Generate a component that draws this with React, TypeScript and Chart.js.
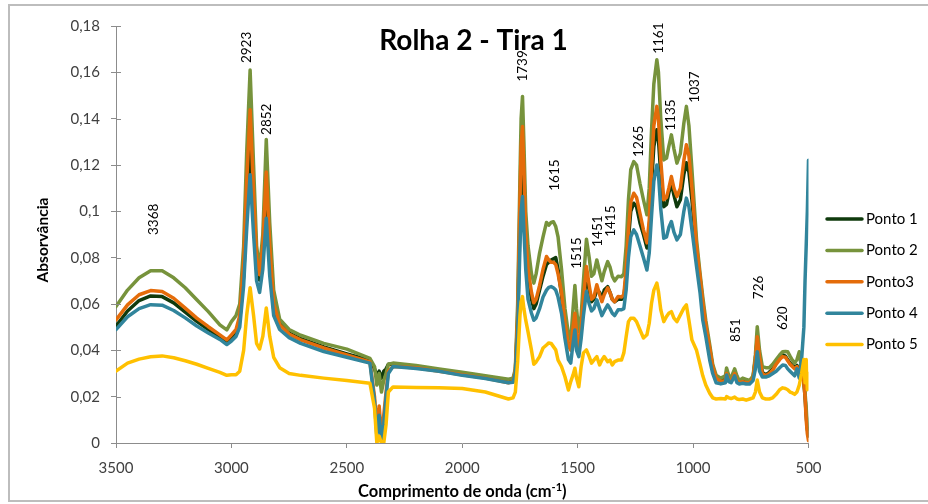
import React, { useEffect, useRef } from "react";
import { Chart, registerables } from "chart.js";

Chart.register(...registerables);

const chartTitle = "Rolha 2 - Tira 1";
const xAxisTitle = "Comprimento de onda (cm";
const xAxisTitleSup = "-1";
const yAxisTitle = "Absorvância";

const seriesNames = ["Ponto 1", "Ponto 2", "Ponto3", "Ponto 4", "Ponto 5"];
const seriesColors = ["#0f3a0c", "#77933c", "#e46c0a", "#31859c", "#ffc000"];

const xTickValues = [3500, 3000, 2500, 2000, 1500, 1000, 500];
const xTickLabels = ["3500", "3000", "2500", "2000", "1500", "1000", "500"];
const yTickValues = [0, 0.02, 0.04, 0.06, 0.08, 0.1, 0.12, 0.14, 0.16, 0.18];
const yTickLabels = ["0", "0,02", "0,04", "0,06", "0,08", "0,1", "0,12", "0,14", "0,16", "0,18"];

const wavenumbers = [
  3500, 3450, 3400, 3350, 3300, 3250, 3200, 3150, 3100, 3050, 3020, 3000,
  2980, 2964, 2947, 2934, 2919, 2904, 2891, 2878, 2864, 2849, 2834, 2817, 2791,
  2750, 2700, 2600, 2500, 2400, 2380, 2370, 2360, 2350, 2340, 2330, 2320, 2300,
  2200, 2100, 2000, 1900, 1800, 1780, 1770, 1760, 1750, 1745, 1739, 1733, 1725, 1715, 1700, 1690,
  1680, 1665, 1650, 1635, 1625, 1615, 1605, 1595, 1585, 1570,
  1555, 1540, 1530, 1520, 1512, 1505, 1495, 1485, 1475, 1462,
  1450, 1440, 1430, 1417, 1405, 1395, 1385, 1370, 1360, 1350,
  1340, 1325, 1310, 1300, 1290, 1280, 1270, 1257, 1245, 1230,
  1215, 1200, 1190, 1180, 1170, 1157, 1150, 1140, 1127, 1115,
  1105, 1094, 1083, 1070, 1055, 1040, 1029, 1018, 1005, 985,
  970, 958, 945, 928, 915, 900, 880, 860, 855, 845,
  835, 820, 810, 800, 785, 770, 755, 740, 730, 722,
  712, 700, 685, 670, 655, 640, 625, 612, 600, 590,
  580, 570, 560, 550, 540, 530, 520, 515, 510, 505,
  500,
];

const ponto1 = [
  0.0505, 0.057, 0.0615, 0.0635, 0.0632, 0.0605, 0.0565, 0.0525, 0.049, 0.0458, 0.044, 0.046,
  0.048, 0.053, 0.072, 0.1, 0.128, 0.098, 0.075, 0.0704, 0.08, 0.105, 0.078, 0.058, 0.0515,
  0.0475, 0.045, 0.0415, 0.0385, 0.0357, 0.032, 0.029, 0.031, 0.028, 0.031, 0.032, 0.034, 0.034,
  0.033, 0.0315, 0.03, 0.0285, 0.027, 0.027, 0.031, 0.052, 0.095, 0.115, 0.122, 0.105, 0.085, 0.072, 0.062, 0.058,
  0.06, 0.066, 0.072, 0.077, 0.078, 0.079, 0.0795, 0.08, 0.075, 0.064,
  0.05, 0.042, 0.041, 0.048, 0.054, 0.047, 0.04, 0.048, 0.06, 0.072,
  0.066, 0.061, 0.062, 0.066, 0.065, 0.062, 0.066, 0.0675, 0.065, 0.062,
  0.061, 0.062, 0.062, 0.063, 0.072, 0.088, 0.1, 0.1035, 0.102, 0.095,
  0.09, 0.0842, 0.092, 0.112, 0.128, 0.1352, 0.131, 0.116, 0.102, 0.103,
  0.108, 0.1123, 0.107, 0.102, 0.105, 0.116, 0.121, 0.117, 0.105, 0.083,
  0.071, 0.06, 0.05, 0.0405, 0.0325, 0.028, 0.027, 0.0275, 0.0305, 0.028,
  0.027, 0.0305, 0.0275, 0.0265, 0.027, 0.0265, 0.0265, 0.0285, 0.0365, 0.045,
  0.0375, 0.0305, 0.0295, 0.0305, 0.032, 0.0345, 0.0365, 0.038, 0.0375, 0.036,
  0.0345, 0.0335, 0.0325, 0.0335, 0.0305, 0.034, 0.026, 0.02, 0.012, 0.006,
  0.003,
];

const ponto2 = [
  0.0589, 0.066, 0.0713, 0.0744, 0.0744, 0.0713, 0.067, 0.0618, 0.0567, 0.051, 0.0488, 0.0524,
  0.055, 0.06, 0.085, 0.125, 0.161, 0.12, 0.085, 0.075, 0.09, 0.131, 0.095, 0.066, 0.0535,
  0.049, 0.0465, 0.043, 0.0405, 0.0365, 0.033, 0.025, 0.03, 0.022, 0.027, 0.03, 0.034, 0.0345,
  0.0335, 0.032, 0.0305, 0.029, 0.0275, 0.028, 0.032, 0.06, 0.115, 0.14, 0.1496, 0.13, 0.1, 0.085, 0.073, 0.069,
  0.073, 0.082, 0.089, 0.0952, 0.094, 0.0952, 0.0955, 0.0934, 0.089, 0.075,
  0.058, 0.047, 0.0445, 0.058, 0.068, 0.058, 0.048, 0.055, 0.07, 0.088,
  0.08, 0.072, 0.073, 0.079, 0.074, 0.07, 0.074, 0.0783, 0.076, 0.072,
  0.07, 0.072, 0.0718, 0.073, 0.085, 0.105, 0.118, 0.1215, 0.12, 0.112,
  0.105, 0.0985, 0.11, 0.135, 0.155, 0.1654, 0.16, 0.14, 0.1222, 0.123,
  0.128, 0.133, 0.127, 0.1208, 0.125, 0.138, 0.1453, 0.137, 0.118, 0.0877,
  0.0734, 0.063, 0.053, 0.0425, 0.034, 0.0292, 0.028, 0.029, 0.0324, 0.029,
  0.0283, 0.032, 0.029, 0.027, 0.028, 0.0275, 0.027, 0.029, 0.038, 0.0502,
  0.04, 0.033, 0.0325, 0.0325, 0.034, 0.036, 0.038, 0.0394, 0.0395, 0.0394,
  0.0375, 0.0358, 0.0345, 0.036, 0.0394, 0.0315, 0.027, 0.022, 0.015, 0.01,
  0.006,
];

const ponto3 = [
  0.0531, 0.0596, 0.064, 0.0658, 0.0654, 0.0625, 0.0582, 0.0539, 0.0502, 0.0467, 0.0445, 0.0467,
  0.049, 0.055, 0.078, 0.112, 0.1438, 0.108, 0.08, 0.0726, 0.085, 0.117, 0.085, 0.06, 0.051,
  0.047, 0.0445, 0.041, 0.038, 0.035, 0.02, 0.006, 0.016, 0.003, 0.012, 0.022, 0.031, 0.033,
  0.0325, 0.031, 0.0295, 0.028, 0.026, 0.0265, 0.031, 0.055, 0.105, 0.128, 0.1366, 0.118, 0.09, 0.075, 0.065, 0.0605,
  0.062, 0.068, 0.075, 0.0805, 0.079, 0.078, 0.078, 0.077, 0.073, 0.065,
  0.052, 0.042, 0.04, 0.05, 0.056, 0.048, 0.04, 0.05, 0.062, 0.0762,
  0.068, 0.062, 0.063, 0.0683, 0.064, 0.061, 0.064, 0.067, 0.065, 0.062,
  0.061, 0.0632, 0.063, 0.064, 0.075, 0.092, 0.104, 0.1078, 0.106, 0.099,
  0.092, 0.0864, 0.096, 0.118, 0.137, 0.1453, 0.14, 0.122, 0.105, 0.106,
  0.11, 0.115, 0.11, 0.1064, 0.11, 0.122, 0.1287, 0.124, 0.11, 0.0848,
  0.072, 0.061, 0.051, 0.041, 0.033, 0.028, 0.0265, 0.027, 0.03, 0.0275,
  0.0265, 0.03, 0.027, 0.026, 0.0265, 0.026, 0.026, 0.028, 0.036, 0.0459,
  0.037, 0.03, 0.029, 0.03, 0.0315, 0.034, 0.036, 0.0373, 0.037, 0.0355,
  0.034, 0.033, 0.032, 0.033, 0.03, 0.034, 0.026, 0.02, 0.01, 0.004,
  0.001,
];

const ponto4 = [
  0.049, 0.0545, 0.058, 0.0597, 0.0595, 0.0572, 0.054, 0.0505, 0.0475, 0.0447, 0.0425, 0.044,
  0.046, 0.05, 0.068, 0.092, 0.1158, 0.09, 0.07, 0.065, 0.075, 0.097, 0.072, 0.055, 0.049,
  0.0455, 0.043, 0.0395, 0.037, 0.0345, 0.018, 0.003, 0.012, 0.001, 0.008, 0.02, 0.03, 0.033,
  0.0322, 0.031, 0.0292, 0.0278, 0.026, 0.0262, 0.03, 0.048, 0.085, 0.1, 0.1064, 0.092, 0.075, 0.062, 0.056, 0.053,
  0.054, 0.058, 0.063, 0.066, 0.0672, 0.0675, 0.067, 0.066, 0.063, 0.056,
  0.045, 0.036, 0.0345, 0.043, 0.0488, 0.04, 0.0373, 0.045, 0.055, 0.0654,
  0.06, 0.057, 0.058, 0.0618, 0.058, 0.055, 0.057, 0.0596, 0.058, 0.056,
  0.055, 0.0575, 0.0575, 0.058, 0.066, 0.08, 0.089, 0.092, 0.09, 0.085,
  0.08, 0.0747, 0.082, 0.098, 0.113, 0.12, 0.116, 0.101, 0.0884, 0.089,
  0.093, 0.0956, 0.091, 0.0877, 0.09, 0.1, 0.1057, 0.102, 0.092, 0.0762,
  0.065, 0.053, 0.046, 0.0358, 0.03, 0.026, 0.0255, 0.026, 0.0294, 0.0265,
  0.026, 0.029, 0.026, 0.0255, 0.0258, 0.0255, 0.0255, 0.027, 0.032, 0.0394,
  0.031, 0.0285, 0.0285, 0.029, 0.03, 0.031, 0.0325, 0.0337, 0.0335, 0.032,
  0.031, 0.03, 0.029, 0.032, 0.028, 0.036, 0.05, 0.07, 0.085, 0.1,
  0.122,
];

const ponto5 = [
  0.031, 0.0345, 0.0362, 0.0372, 0.0376, 0.0368, 0.0355, 0.034, 0.0322, 0.0305, 0.0292, 0.0295,
  0.0295, 0.031, 0.04, 0.055, 0.067, 0.055, 0.043, 0.0406, 0.046, 0.0583, 0.046, 0.037, 0.0325,
  0.03, 0.0292, 0.028, 0.027, 0.0258, 0.015, 0.0, 0.003, 0.0, 0.0, 0.008, 0.022, 0.0242,
  0.024, 0.0238, 0.0235, 0.022, 0.019, 0.0195, 0.022, 0.035, 0.055, 0.061, 0.0632, 0.058, 0.053, 0.048, 0.04, 0.034,
  0.035, 0.0373, 0.041, 0.0423, 0.0432, 0.043, 0.0416, 0.0402, 0.0358, 0.033,
  0.0286, 0.0229, 0.0265, 0.0294, 0.0323, 0.028, 0.0243, 0.033, 0.0389, 0.0402,
  0.0373, 0.0345, 0.0358, 0.0373, 0.0337, 0.0358, 0.0373, 0.0351, 0.0358, 0.0337,
  0.0351, 0.0358, 0.0358, 0.0389, 0.0459, 0.0524, 0.0539, 0.0539, 0.0524, 0.0488,
  0.0453, 0.0467, 0.0517, 0.0603, 0.066, 0.069, 0.0654, 0.0575, 0.0524, 0.0546,
  0.056, 0.0567, 0.0539, 0.0524, 0.0553, 0.0582, 0.0596, 0.053, 0.0445, 0.04,
  0.034, 0.029, 0.025, 0.0215, 0.0195, 0.019, 0.0192, 0.019, 0.02, 0.0195,
  0.0192, 0.0198, 0.019, 0.0188, 0.019, 0.0185, 0.019, 0.0195, 0.022, 0.0272,
  0.022, 0.0195, 0.019, 0.019, 0.0195, 0.021, 0.023, 0.0238, 0.0235, 0.023,
  0.022, 0.0216, 0.021, 0.022, 0.025, 0.03, 0.036, 0.026, 0.036, 0.023,
  0.03,
];

const seriesValues = [ponto1, ponto2, ponto3, ponto4, ponto5];

const peakLabels = ["3368", "2923", "2852", "1739", "1615", "1515", "1451", "1415", "1265", "1161", "1135", "1037", "851", "726", "620"];
const peakLabelX = [3337, 2934, 2848, 1738, 1599, 1504, 1413, 1356, 1235, 1150, 1097, 993, 815, 714, 610];
const peakLabelY = [0.0898, 0.164, 0.133, 0.156, 0.1089, 0.0752, 0.0847, 0.089, 0.1235, 0.168, 0.1348, 0.1469, 0.0436, 0.0621, 0.0488];

const FONT = "Lato, 'Open Sans', 'DejaVu Sans', sans-serif";

const decorPlugin = {
  id: "decor",
  afterDraw(chart: any) {
    const ctx: CanvasRenderingContext2D = chart.ctx;
    const xs = chart.scales.x;
    const ys = chart.scales.y;
    const area = chart.chartArea;
    ctx.save();

    // inner half of y tick marks
    ctx.strokeStyle = "#8c8c8c";
    ctx.lineWidth = 1;
    yTickValues.forEach((v) => {
      const py = Math.round(ys.getPixelForValue(v)) + 0.5;
      ctx.beginPath();
      ctx.moveTo(area.left, py);
      ctx.lineTo(area.left + 5, py);
      ctx.stroke();
    });

    // title
    ctx.fillStyle = "#000";
    ctx.font = `bold 28px ${FONT}`;
    ctx.textAlign = "center";
    ctx.textBaseline = "alphabetic";
    ctx.fillText(chartTitle, 473.5, 50);

    // y axis title
    ctx.save();
    ctx.translate(43, 240);
    ctx.rotate(-Math.PI / 2);
    ctx.font = `bold 15.5px ${FONT}`;
    ctx.textAlign = "center";
    ctx.textBaseline = "middle";
    ctx.fillText(yAxisTitle, 0, 0);
    ctx.restore();

    // x axis title with superscript
    ctx.font = `bold 16.5px ${FONT}`;
    const w1 = ctx.measureText(xAxisTitle).width;
    ctx.font = `bold 11px ${FONT}`;
    const w2 = ctx.measureText(xAxisTitleSup).width;
    ctx.font = `bold 16.5px ${FONT}`;
    const w3 = ctx.measureText(")").width;
    const cx = (area.left + area.right) / 2;
    let sx = cx - (w1 + w2 + w3) / 2;
    const by = 497;
    ctx.textAlign = "left";
    ctx.textBaseline = "alphabetic";
    ctx.fillText(xAxisTitle, sx, by);
    sx += w1;
    ctx.font = `bold 11px ${FONT}`;
    ctx.fillText(xAxisTitleSup, sx, by - 6.5);
    sx += w2;
    ctx.font = `bold 16.5px ${FONT}`;
    ctx.fillText(")", sx, by);

    // peak labels
    ctx.font = `13.5px ${FONT}`;
    ctx.fillStyle = "#000";
    peakLabels.forEach((t, i) => {
      const px = xs.getPixelForValue(peakLabelX[i]);
      const py = ys.getPixelForValue(peakLabelY[i]);
      ctx.save();
      ctx.translate(px, py);
      ctx.rotate(-Math.PI / 2);
      ctx.textAlign = "left";
      ctx.textBaseline = "middle";
      ctx.fillText(t, 0, 0);
      ctx.restore();
    });

    // legend
    ctx.font = `15px ${FONT}`;
    ctx.textAlign = "left";
    ctx.textBaseline = "middle";
    seriesNames.forEach((name, i) => {
      const ly = 219 + i * 31.4;
      ctx.strokeStyle = seriesColors[i];
      ctx.lineWidth = 3.5;
      ctx.lineCap = "round";
      ctx.beginPath();
      ctx.moveTo(827, ly);
      ctx.lineTo(862, ly);
      ctx.stroke();
      ctx.fillStyle = "#000";
      ctx.fillText(name, 866, ly);
    });

    // outer border
    ctx.strokeStyle = "#bdbdbd";
    ctx.lineWidth = 2;
    ctx.lineCap = "butt";
    ctx.beginPath();
    ctx.moveTo(928, 5);
    ctx.lineTo(9, 5);
    ctx.lineTo(9, 501);
    ctx.lineTo(928, 501);
    ctx.stroke();

    ctx.restore();
  },
};

export default function App() {
  const ref = useRef<HTMLCanvasElement>(null);

  useEffect(() => {
    const canvas = ref.current;
    if (!canvas) return;
    const datasets = seriesNames.map((name, i) => ({
      label: name,
      data: wavenumbers.map((w, j) => ({ x: w, y: seriesValues[i][j] })),
      borderColor: seriesColors[i],
      backgroundColor: seriesColors[i],
      borderWidth: 3.5,
      pointRadius: 0,
      tension: 0,
      fill: false,
      borderJoinStyle: "round" as const,
      borderCapStyle: "round" as const,
      order: seriesNames.length - i,
    }));

    const chart = new Chart(canvas, {
      type: "line",
      data: { datasets },
      options: {
        animation: false,
        responsive: false,
        devicePixelRatio: 1,
        layout: { padding: { left: 16, right: 119.5, top: 26, bottom: 0 } },
        plugins: {
          legend: { display: false },
          tooltip: { enabled: false },
          title: { display: false },
        },
        scales: {
          x: {
            type: "linear",
            reverse: true,
            min: 500,
            max: 3500,
            afterBuildTicks: (scale: any) => {
              scale.ticks = xTickValues.map((v) => ({ value: v }));
            },
            afterFit: (scale: any) => {
              scale.height = 61;
            },
            ticks: {
              autoSkip: false,
              maxRotation: 0,
              padding: 11,
              color: "#404040",
              font: { family: FONT, size: 15 },
              callback: (v: any) => {
                const k = xTickValues.indexOf(Number(v));
                return k >= 0 ? xTickLabels[k] : "";
              },
            },
            grid: {
              drawOnChartArea: false,
              drawTicks: true,
              tickLength: 5,
              color: "#8c8c8c",
            },
            border: { display: true, color: "#8c8c8c", width: 1 },
          },
          y: {
            type: "linear",
            min: 0,
            max: 0.18,
            afterBuildTicks: (scale: any) => {
              scale.ticks = yTickValues.map((v) => ({ value: v }));
            },
            afterFit: (scale: any) => {
              scale.width = 100;
            },
            ticks: {
              autoSkip: false,
              padding: 11,
              color: "#404040",
              font: { family: FONT, size: 15 },
              callback: (v: any) => {
                const k = yTickValues.findIndex((t) => Math.abs(t - Number(v)) < 1e-9);
                return k >= 0 ? yTickLabels[k] : "";
              },
            },
            grid: {
              drawOnChartArea: false,
              drawTicks: true,
              tickLength: 5,
              color: "#8c8c8c",
            },
            border: { display: true, color: "#8c8c8c", width: 1 },
          },
        },
      },
      plugins: [decorPlugin],
    });

    return () => chart.destroy();
  }, []);

  return (
    <canvas
      ref={ref}
      width={928}
      height={504}
      style={{ position: "fixed", left: 0, top: 0, width: 928, height: 504, background: "#fff" }}
    />
  );
}
